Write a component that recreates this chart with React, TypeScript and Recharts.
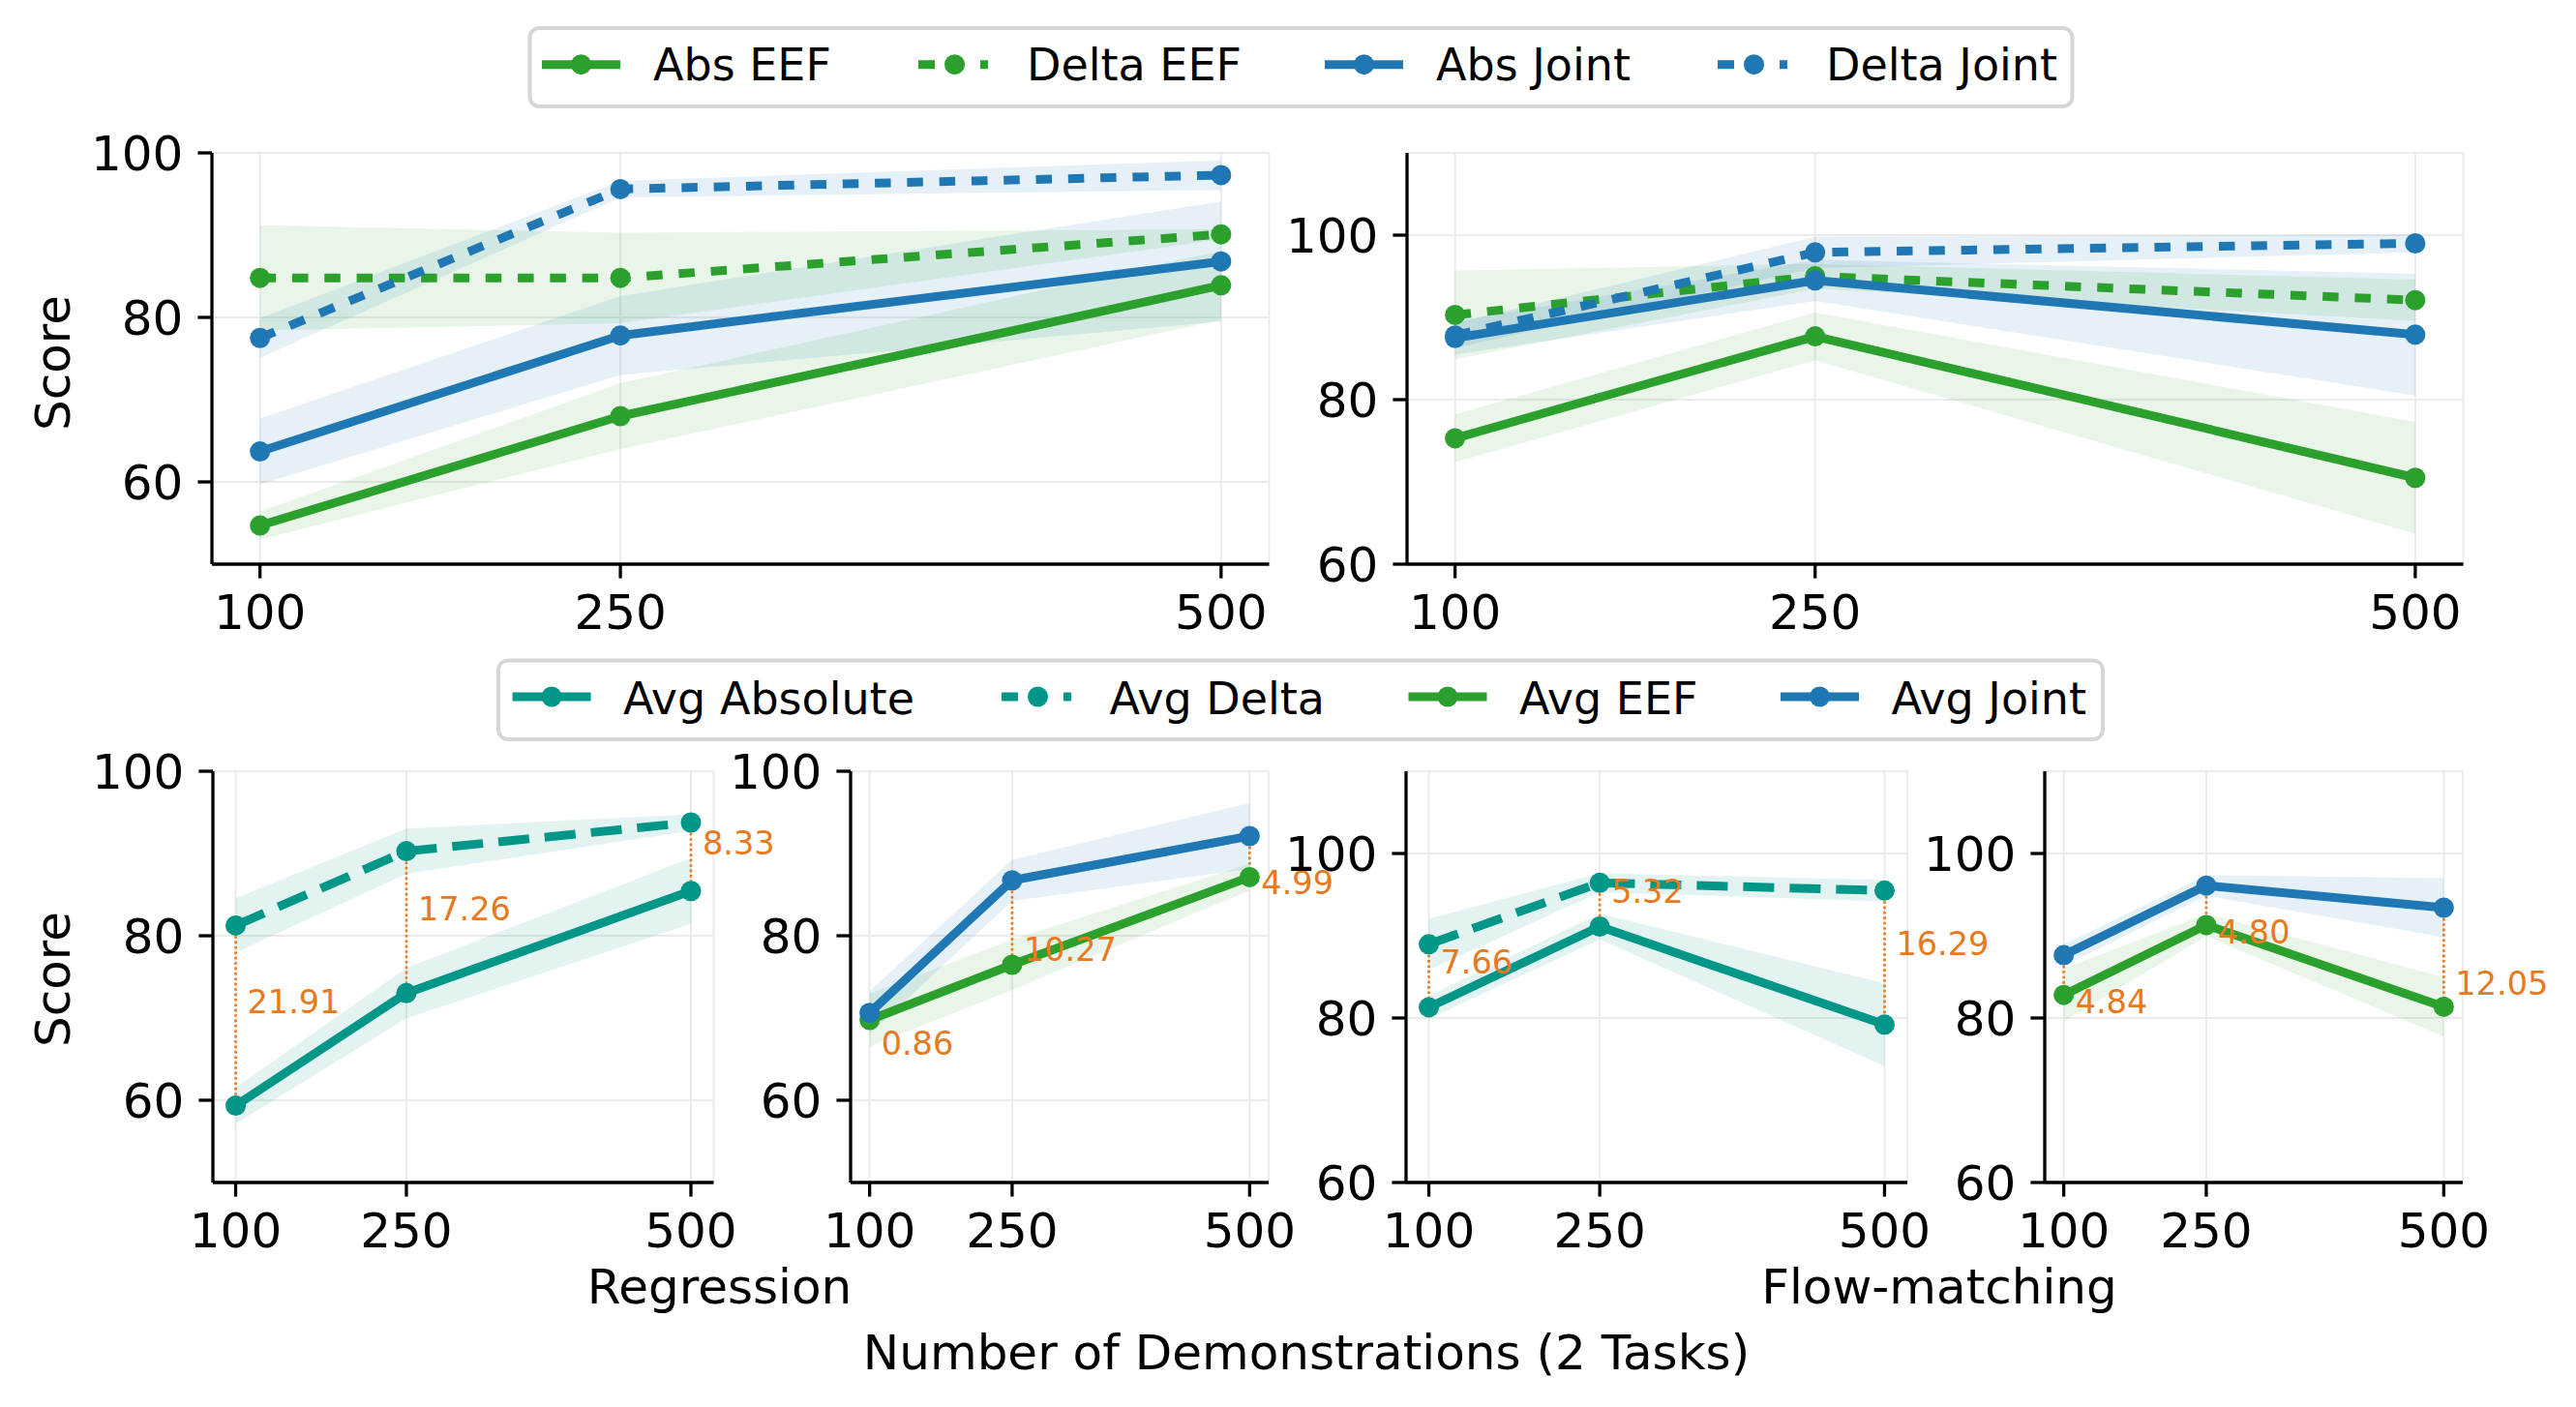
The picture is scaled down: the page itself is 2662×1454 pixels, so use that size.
import React from 'react';
import { ComposedChart, Line, Area, XAxis, YAxis, CartesianGrid, ReferenceLine } from 'recharts';

const GREEN = '#2ca02c';
const BLUE = '#1f77b4';
const TEAL = '#009688';
const ORANGE = '#e8791c';
const FONT = '"DejaVu Sans", sans-serif';

const DEMOS = [100, 250, 500];
const X_TICKS = [100, 250, 500];
const Y_TICKS = [60, 80, 100];

// regression, per action space (top left)
const regAbsEef = [54.7, 68.0, 83.9];
const regAbsEefStd = [1.7, 4.0, 4.2];
const regDeltaEef = [84.8, 84.8, 90.1];
const regDeltaEefStd = [6.4, 5.5, 0.6];
const regAbsJoint = [63.7, 77.8, 86.8];
const regAbsJointStd = [4.0, 4.8, 7.3];
const regDeltaJoint = [77.5, 95.6, 97.3];
const regDeltaJointStd = [2.4, 1.0, 1.8];

// flow-matching, per action space (top right)
const fmAbsEef = [75.3, 87.7, 70.5];
const fmAbsEefStd = [2.9, 2.9, 6.8];
const fmDeltaEef = [90.3, 95.0, 92.1];
const fmDeltaEefStd = [5.4, 1.5, 2.5];
const fmAbsJoint = [87.5, 94.5, 87.9];
const fmAbsJointStd = [2.0, 2.5, 7.4];
const fmDeltaJoint = [87.8, 97.9, 99.0];
const fmDeltaJointStd = [1.5, 1.9, 1.1];

// averages (bottom row)
const regAvgAbs = [59.34, 73.02, 85.44];
const regAvgAbsStd = [2.2, 3.05, 4.0];
const regAvgDelta = [81.25, 90.28, 93.77];
const regAvgDeltaStd = [3.3, 2.75, 1.0];
const regAbsDeltaGap = [21.91, 17.26, 8.33];

const regAvgEef = [69.77, 76.47, 87.13];
const regAvgEefStd = [3.2, 3.05, 1.6];
const regAvgJoint = [70.63, 86.74, 92.12];
const regAvgJointStd = [2.6, 2.5, 4.0];
const regEefJointGap = [0.86, 10.27, 4.99];

const fmAvgAbs = [81.3, 91.12, 79.2];
const fmAvgAbsStd = [1.4, 1.55, 5.05];
const fmAvgDelta = [88.96, 96.44, 95.49];
const fmAvgDeltaStd = [3.1, 1.15, 1.3];
const fmAbsDeltaGap = [7.66, 5.32, 16.29];

const fmAvgEef = [82.8, 91.3, 81.36];
const fmAvgEefStd = [3.2, 1.35, 3.6];
const fmAvgJoint = [87.64, 96.1, 93.41];
const fmAvgJointStd = [1.3, 1.25, 3.6];
const fmEefJointGap = [4.84, 4.8, 12.05];

const DOTTED = '16.5 16.8';
const DASHED = '32 16';

type Series = { mean: number[]; std: number[]; color: string; dash?: string };
type Gap = { upper: number[]; lower: number[]; labels: number[]; dy: number };

const YW = 140;
const MT = 30;
const MR = 108;
const XH = 110;
const LW = 9;
const R = 10.5;

function Panel({ x, y, w, h, yDomain, series, gap }: {
  x: number; y: number; w: number; h: number; yDomain: [number, number]; series: Series[]; gap?: Gap;
}) {
  const data = DEMOS.map((d, i) => {
    const row: Record<string, any> = { x: d };
    series.forEach((s, k) => {
      row['m' + k] = s.mean[i];
      row['b' + k] = [s.mean[i] - s.std[i], s.mean[i] + s.std[i]];
    });
    return row;
  });

  const marks = series.flatMap((s, k) => [
    <Area
      key={'a' + k}
      type="linear"
      dataKey={'b' + k}
      stroke="none"
      fill={s.color}
      fillOpacity={0.11}
      dot={false}
      activeDot={false}
      isAnimationActive={false}
    />,
    <Line
      key={'l' + k}
      type="linear"
      dataKey={'m' + k}
      stroke={s.color}
      strokeWidth={LW}
      strokeDasharray={s.dash}
      strokeLinejoin="round"
      dot={{ r: R, fill: s.color, stroke: s.color, strokeWidth: 0 }}
      activeDot={false}
      isAnimationActive={false}
    />,
  ]);

  return (
    <div style={{ position: 'absolute', left: x - YW, top: y - MT }}>
      <ComposedChart
        width={w + YW + MR}
        height={h + MT + XH}
        data={data}
        margin={{ top: MT, right: MR, left: 0, bottom: 0 }}
      >
        <CartesianGrid stroke="#ebebeb" strokeWidth={2} />
        <XAxis
          dataKey="x"
          type="number"
          domain={[80, 520]}
          ticks={X_TICKS}
          interval={0}
          height={XH}
          tickSize={14.6}
          tickMargin={17}
          axisLine={{ stroke: '#000', strokeWidth: 3.3 }}
          tickLine={{ stroke: '#000', strokeWidth: 3.3 }}
          tick={{ fill: '#000', fontSize: 50, fontFamily: FONT }}
        />
        <YAxis
          type="number"
          domain={yDomain}
          ticks={Y_TICKS}
          interval={0}
          width={YW}
          tickSize={14.6}
          tickMargin={15}
          allowDataOverflow
          axisLine={{ stroke: '#000', strokeWidth: 3.3 }}
          tickLine={{ stroke: '#000', strokeWidth: 3.3 }}
          tick={{ fill: '#000', fontSize: 50, fontFamily: FONT }}
        />
        {marks}
        {gap &&
          DEMOS.map((d, i) => (
            <ReferenceLine
              key={'g' + i}
              segment={[{ x: d, y: gap.upper[i] }, { x: d, y: gap.lower[i] }]}
              stroke={ORANGE}
              strokeWidth={2.6}
              strokeDasharray="2.6 2.8"
              label={(p: any) => {
                const vb = p.viewBox || { x: 0, y: 0, height: 0 };
                return (
                  <text
                    x={vb.x + 12}
                    y={vb.y + vb.height / 2 + gap.dy + 12.2}
                    fill={ORANGE}
                    fontSize={33.5}
                    fontFamily={FONT}
                  >
                    {gap.labels[i].toFixed(2)}
                  </text>
                );
              }}
            />
          ))}
      </ComposedChart>
    </div>
  );
}

function Handle({ x, y, color, dashed }: { x: number; y: number; color: string; dashed?: boolean }) {
  return (
    <g>
      {dashed ? (
        <>
          <line x1={x + 3} x2={x + 20} y1={y} y2={y} stroke={color} strokeWidth={LW} />
          <line x1={x + 67} x2={x + 75} y1={y} y2={y} stroke={color} strokeWidth={LW} />
        </>
      ) : (
        <line x1={x} x2={x + 81} y1={y} y2={y} stroke={color} strokeWidth={LW} />
      )}
      <circle cx={x + 40.5} cy={y} r={R} fill={color} />
    </g>
  );
}

const topLegend = [
  { label: 'Abs EEF', color: GREEN, dashed: false, x: 560 },
  { label: 'Delta EEF', color: GREEN, dashed: true, x: 946 },
  { label: 'Abs Joint', color: BLUE, dashed: false, x: 1369 },
  { label: 'Delta Joint', color: BLUE, dashed: true, x: 1772 },
];

const bottomLegend = [
  { label: 'Avg Absolute', color: TEAL, dashed: false, x: 529.6 },
  { label: 'Avg Delta', color: TEAL, dashed: true, x: 1032 },
  { label: 'Avg EEF', color: GREEN, dashed: false, x: 1455.5 },
  { label: 'Avg Joint', color: BLUE, dashed: false, x: 1840 },
];

export default function App() {
  return (
    <div
      style={{
        position: 'relative',
        width: 2662,
        height: 1454,
        background: '#fff',
        overflow: 'hidden',
        fontFamily: FONT,
      }}
    >
      <style>{'body{margin:0}'}</style>

      <Panel
        x={219}
        y={157.6}
        w={1092.5}
        h={425}
        yDomain={[50, 100]}
        series={[
          { mean: regAbsEef, std: regAbsEefStd, color: GREEN },
          { mean: regDeltaEef, std: regDeltaEefStd, color: GREEN, dash: DOTTED },
          { mean: regAbsJoint, std: regAbsJointStd, color: BLUE },
          { mean: regDeltaJoint, std: regDeltaJointStd, color: BLUE, dash: DOTTED },
        ]}
      />
      <Panel
        x={1453.5}
        y={157.6}
        w={1091.5}
        h={425}
        yDomain={[60, 110]}
        series={[
          { mean: fmAbsEef, std: fmAbsEefStd, color: GREEN },
          { mean: fmDeltaEef, std: fmDeltaEefStd, color: GREEN, dash: DOTTED },
          { mean: fmAbsJoint, std: fmAbsJointStd, color: BLUE },
          { mean: fmDeltaJoint, std: fmDeltaJointStd, color: BLUE, dash: DOTTED },
        ]}
      />

      <Panel
        x={219.5}
        y={796.5}
        w={517.5}
        h={425}
        yDomain={[50, 100]}
        series={[
          { mean: regAvgAbs, std: regAvgAbsStd, color: TEAL },
          { mean: regAvgDelta, std: regAvgDeltaStd, color: TEAL, dash: DASHED },
        ]}
        gap={{ upper: regAvgDelta, lower: regAvgAbs, labels: regAbsDeltaGap, dy: -14.5 }}
      />
      <Panel
        x={879}
        y={796.5}
        w={432}
        h={425}
        yDomain={[50, 100]}
        series={[
          { mean: regAvgEef, std: regAvgEefStd, color: GREEN },
          { mean: regAvgJoint, std: regAvgJointStd, color: BLUE },
        ]}
        gap={{ upper: regAvgJoint, lower: regAvgEef, labels: regEefJointGap, dy: 27 }}
      />
      <Panel
        x={1453}
        y={796.5}
        w={518}
        h={425}
        yDomain={[60, 110]}
        series={[
          { mean: fmAvgAbs, std: fmAvgAbsStd, color: TEAL },
          { mean: fmAvgDelta, std: fmAvgDeltaStd, color: TEAL, dash: DASHED },
        ]}
        gap={{ upper: fmAvgDelta, lower: fmAvgAbs, labels: fmAbsDeltaGap, dy: -14.5 }}
      />
      <Panel
        x={2113}
        y={796.5}
        w={432}
        h={425}
        yDomain={[60, 110]}
        series={[
          { mean: fmAvgEef, std: fmAvgEefStd, color: GREEN },
          { mean: fmAvgJoint, std: fmAvgJointStd, color: BLUE },
        ]}
        gap={{ upper: fmAvgJoint, lower: fmAvgEef, labels: fmEefJointGap, dy: 27 }}
      />

      <svg
        width={2662}
        height={1454}
        style={{ position: 'absolute', left: 0, top: 0, pointerEvents: 'none' }}
        fontFamily={FONT}
      >
        {/* top legend */}
        <rect x={547.5} y={29} width={1594} height={81} rx={10} fill="#fff" fillOpacity={0.8} stroke="#d6d6d6" strokeWidth={4} />
        {topLegend.map((it) => (
          <g key={it.label}>
            <Handle x={it.x} y={66.7} color={it.color} dashed={it.dashed} />
            <text x={it.x + 115} y={83.4} fontSize={46} fill="#000">{it.label}</text>
          </g>
        ))}

        {/* bottom legend */}
        <rect x={515} y={682.5} width={1658} height={81.5} rx={10} fill="#fff" fillOpacity={0.8} stroke="#d6d6d6" strokeWidth={4} />
        {bottomLegend.map((it) => (
          <g key={it.label}>
            <Handle x={it.x} y={720} color={it.color} dashed={it.dashed} />
            <text x={it.x + 114.5} y={737.5} fontSize={46} fill="#000">{it.label}</text>
          </g>
        ))}

        <text transform="translate(72,375) rotate(-90)" textAnchor="middle" fontSize={50} fill="#000">Score</text>
        <text transform="translate(71.5,1012) rotate(-90)" textAnchor="middle" fontSize={50} fill="#000">Score</text>

        <text x={743.5} y={1347} textAnchor="middle" fontSize={50} fill="#000">Regression</text>
        <text x={2004} y={1347} textAnchor="middle" fontSize={50} fill="#000">Flow-matching</text>
        <text x={1350} y={1415} textAnchor="middle" fontSize={50} fill="#000">Number of Demonstrations (2 Tasks)</text>
      </svg>
    </div>
  );
}
